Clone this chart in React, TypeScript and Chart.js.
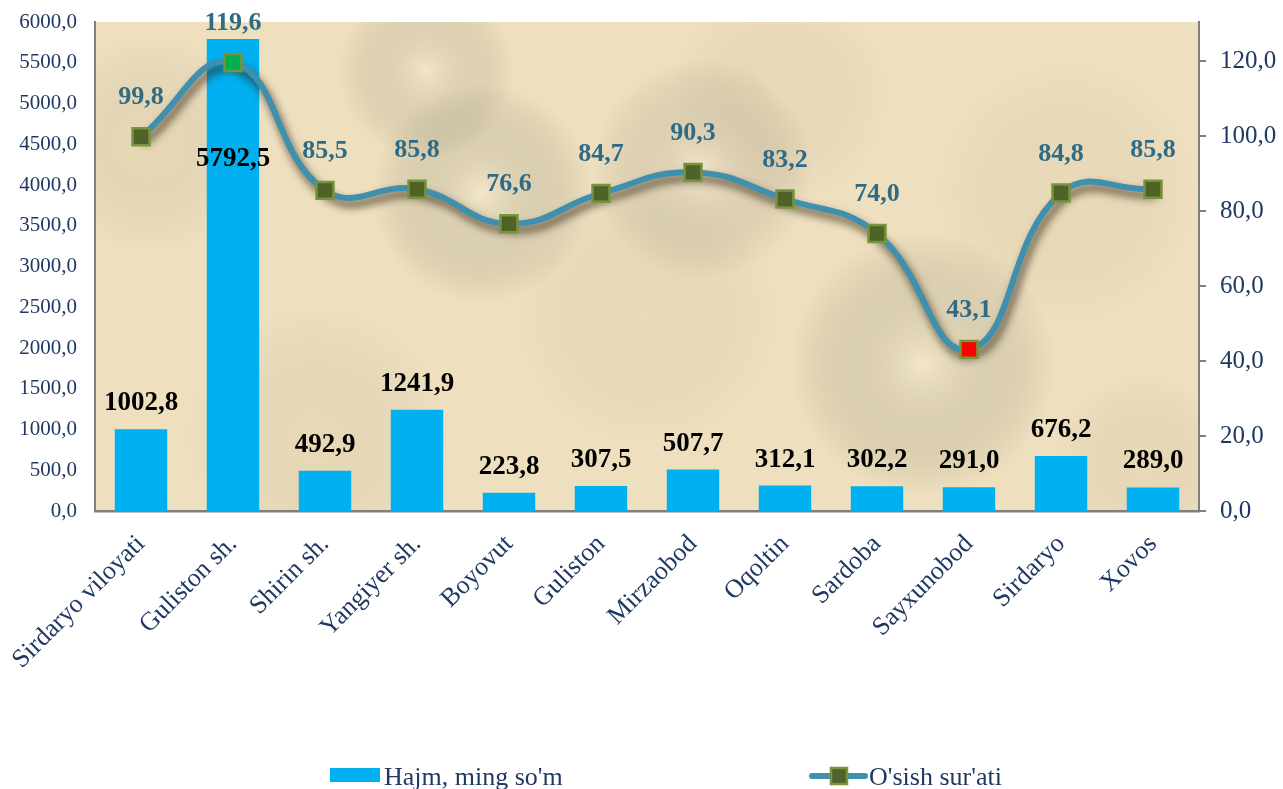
import React, { useEffect, useRef } from "react";
import { Chart, registerables } from "chart.js";

Chart.register(...registerables);

const categories = [
  "Sirdaryo viloyati",
  "Guliston sh.",
  "Shirin sh.",
  "Yangiyer sh.",
  "Boyovut",
  "Guliston",
  "Mirzaobod",
  "Oqoltin",
  "Sardoba",
  "Sayxunobod",
  "Sirdaryo",
  "Xovos",
];
const hajm = [1002.8, 5792.5, 492.9, 1241.9, 223.8, 307.5, 507.7, 312.1, 302.2, 291.0, 676.2, 289.0];
const osish = [99.8, 119.6, 85.5, 85.8, 76.6, 84.7, 90.3, 83.2, 74.0, 43.1, 84.8, 85.8];
const seriesNames = ["Hajm, ming so'm", "O'sish sur'ati"];
const markerFills = ["#4f6228", "#00b050", "#4f6228", "#4f6228", "#4f6228", "#4f6228", "#4f6228", "#4f6228", "#4f6228", "#ff0000", "#4f6228", "#4f6228"];

const SERIF = "'Liberation Serif', 'Times New Roman', serif";
const NAVY = "#1f3864";
const BAR = "#00b0f0";
const LINE = "#3f8fae";
const LABEL_LINE = "#2f6b85";
const MARK_BORDER = "#77933c";
const AXIS = "#7f7f7f";

const fmt = (v: number) => v.toFixed(1).replace(".", ",");

const backgroundPlugin = {
  id: "parchment",
  beforeDraw(chart: any) {
    const { ctx, chartArea: a } = chart;
    ctx.save();
    ctx.fillStyle = "#eee0bf";
    ctx.fillRect(a.left, a.top, a.right - a.left, a.bottom - a.top);
    const blots = [
      [0.05, 0.25, 0.1, "rgba(205,175,120,0.14)"],
      [0.2, 0.85, 0.12, "rgba(205,175,120,0.12)"],
      [0.35, 0.35, 0.1, "rgba(252,242,218,0.35)"],
      [0.5, 0.6, 0.12, "rgba(205,175,120,0.1)"],
      [0.62, 0.15, 0.1, "rgba(205,175,120,0.1)"],
      [0.75, 0.7, 0.12, "rgba(252,242,218,0.35)"],
      [0.88, 0.35, 0.12, "rgba(205,175,120,0.1)"],
      [0.95, 0.9, 0.08, "rgba(205,175,120,0.12)"],
      [0.3, 0.1, 0.08, "rgba(252,242,218,0.3)"],
      [0.55, 0.3, 0.1, "rgba(252,242,218,0.3)"],
    ];
    const w = a.right - a.left;
    const h = a.bottom - a.top;
    for (const [fx, fy, fr, col] of blots as any) {
      const cx = a.left + fx * w;
      const cy = a.top + fy * h;
      const r = fr * w;
      const g = ctx.createRadialGradient(cx, cy, 0, cx, cy, r);
      g.addColorStop(0, col);
      g.addColorStop(1, "rgba(0,0,0,0)");
      ctx.fillStyle = g;
      ctx.fillRect(a.left, a.top, w, h);
    }
    ctx.restore();
  },
};

const shadowPlugin = {
  id: "lineShadow",
  beforeDatasetDraw(chart: any, args: any) {
    if (args.index === 1) {
      const ctx = chart.ctx;
      ctx.save();
      ctx.shadowColor = "rgba(45,35,15,0.8)";
      ctx.shadowBlur = 8;
      ctx.shadowOffsetX = 3;
      ctx.shadowOffsetY = 6;
    }
  },
  afterDatasetDraw(chart: any, args: any) {
    if (args.index === 1) chart.ctx.restore();
  },
};

const labelsPlugin = {
  id: "valueLabels",
  afterDatasetsDraw(chart: any) {
    const ctx = chart.ctx;
    ctx.save();
    ctx.textAlign = "center";
    ctx.textBaseline = "middle";
    ctx.font = `bold 27px ${SERIF}`;
    const bars = chart.getDatasetMeta(0).data;
    bars.forEach((el: any, i: number) => {
      ctx.fillStyle = "#000";
      const inside = hajm[i] > 5000;
      const y = inside ? el.y + 120 : el.y - 26;
      ctx.fillText(fmt(hajm[i]), el.x, y);
    });
    ctx.font = `bold 26px ${SERIF}`;
    const pts = chart.getDatasetMeta(2).data;
    pts.forEach((el: any, i: number) => {
      ctx.fillStyle = LABEL_LINE;
      ctx.fillText(fmt(osish[i]), el.x, el.y - 39);
    });
    ctx.restore();
  },
  afterDraw(chart: any) {
    const ctx = chart.ctx;
    ctx.save();
    ctx.font = `26px ${SERIF}`;
    ctx.fillStyle = NAVY;
    ctx.textBaseline = "alphabetic";
    ctx.textAlign = "left";
    // bar legend
    ctx.fillStyle = BAR;
    ctx.fillRect(330, 768, 50, 14);
    ctx.fillStyle = NAVY;
    ctx.fillText(seriesNames[0], 384, 785);
    // line legend
    ctx.strokeStyle = LINE;
    ctx.lineWidth = 6;
    ctx.lineCap = "round";
    ctx.beginPath();
    ctx.moveTo(812, 776);
    ctx.lineTo(865, 776);
    ctx.stroke();
    ctx.fillStyle = markerFills[0];
    ctx.fillRect(831, 768, 16, 16);
    ctx.strokeStyle = MARK_BORDER;
    ctx.lineWidth = 2.5;
    ctx.strokeRect(831, 768, 16, 16);
    ctx.fillStyle = NAVY;
    ctx.fillText(seriesNames[1], 869, 785);
    ctx.restore();
  },
};

const zeroPad = (scale: any) => {
  scale.paddingTop = 0;
  scale.paddingBottom = 0;
  scale.paddingLeft = 0;
  scale.paddingRight = 0;
};

export default function App() {
  const ref = useRef<HTMLCanvasElement | null>(null);
  useEffect(() => {
    if (!ref.current) return;
    const chart = new Chart(ref.current, {
      type: "bar",
      data: {
        labels: categories,
        datasets: [
          {
            type: "bar",
            label: seriesNames[0],
            data: hajm,
            yAxisID: "y",
            backgroundColor: BAR,
            barPercentage: 0.57,
            categoryPercentage: 1,
            order: 2,
          } as any,
          {
            type: "line",
            label: seriesNames[1],
            data: osish,
            yAxisID: "y1",
            borderColor: LINE,
            borderWidth: 6,
            tension: 0.45,
            pointRadius: 0,
            fill: false,
            order: 1,
            clip: false,
          } as any,
          {
            type: "line",
            label: "markers",
            data: osish,
            yAxisID: "y1",
            showLine: false,
            pointStyle: "rect",
            pointRadius: 12,
            pointBackgroundColor: markerFills,
            pointBorderColor: MARK_BORDER,
            pointBorderWidth: 2.5,
            order: 0,
            clip: false,
          } as any,
        ],
      },
      options: {
        animation: false,
        responsive: true,
        maintainAspectRatio: false,
        layout: { padding: { top: 22, left: 0, right: 0, bottom: 0 } },
        plugins: {
          legend: { display: false },
          tooltip: { enabled: false },
          title: { display: false },
        },
        scales: {
          x: {
            type: "category",
            offset: true,
            grid: { display: false, drawTicks: false },
            border: { display: true, color: AXIS, width: 2.5 },
            ticks: {
              color: NAVY,
              font: { family: SERIF, size: 26 },
              minRotation: 45,
              maxRotation: 45,
              padding: 18,
              autoSkip: false,
            },
            afterFit(scale: any) {
              scale.height = 278;
              zeroPad(scale);
            },
          },
          y: {
            position: "left",
            min: 0,
            max: 6000,
            grid: { display: false, drawTicks: false },
            border: { display: true, color: AXIS, width: 2 },
            ticks: {
              stepSize: 500,
              color: NAVY,
              font: { family: SERIF, size: 21 },
              padding: 18,
              callback: (v: any) => fmt(Number(v)),
            },
            afterFit(scale: any) {
              scale.width = 95;
              zeroPad(scale);
            },
          },
          y1: {
            position: "right",
            min: 0,
            max: 130.4,
            grid: { display: true, drawOnChartArea: false, drawTicks: true, tickLength: 7, color: AXIS, lineWidth: 2 },
            border: { display: true, color: AXIS, width: 2 },
            ticks: {
              stepSize: 20,
              color: NAVY,
              font: { family: SERIF, size: 25 },
              padding: 14,
              callback: (v: any) => fmt(Number(v)),
            },
            afterBuildTicks(scale: any) {
              scale.ticks = scale.ticks.filter((t: any) => t.value <= 120 + 1e-9);
            },
            afterFit(scale: any) {
              scale.width = 84;
              zeroPad(scale);
            },
          },
        },
      } as any,
      plugins: [backgroundPlugin, shadowPlugin, labelsPlugin],
    });
    return () => chart.destroy();
  }, []);
  return (
    <div style={{ position: "fixed", left: 0, top: 0, width: 1283, height: 789, background: "#fff" }}>
      <canvas ref={ref} />
    </div>
  );
}
